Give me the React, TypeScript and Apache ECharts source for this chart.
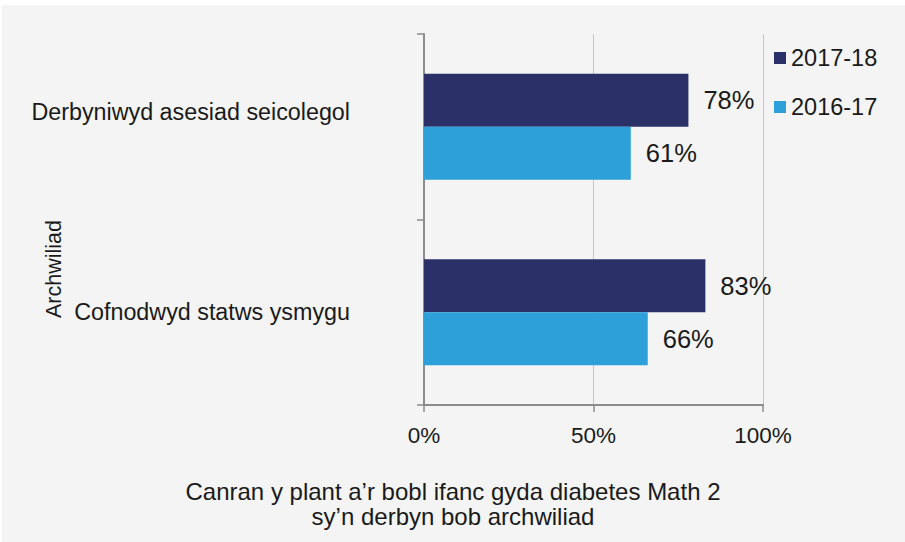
import React, { useEffect, useRef } from "react";
import * as echarts from "echarts";

const categories = ["Derbyniwyd asesiad seicolegol", "Cofnodwyd statws ysmygu"];
const seriesNames = ["2017-18", "2016-17"];
const values2017_18 = [78, 83];
const values2016_17 = [61, 66];
const xTicks = [0, 50, 100];
const xAxisTitle = "Canran y plant a\u2019r bobl ifanc gyda diabetes Math 2\nsy\u2019n derbyn bob archwiliad";
const yAxisTitle = "Archwiliad";

const FONT = "'Liberation Sans', Arial, Helvetica, sans-serif";
const TEXT = "#1a1a1a";

export default function App() {
  const ref = useRef<HTMLDivElement>(null);
  useEffect(() => {
    if (!ref.current) return;
    const chart = echarts.init(ref.current, undefined, { renderer: "svg" });
    const label = {
      show: true,
      position: "right",
      distance: 15,
      formatter: (p: any) => `${p.value}%`,
      fontSize: 25.5,
      fontFamily: FONT,
      color: TEXT,
    };
    chart.setOption({
      animation: false,
      backgroundColor: "#F3F4F3",
      textStyle: { fontFamily: FONT },
      grid: { left: 422, top: 29, right: 142, bottom: 137, containLabel: false },
      legend: {
        data: seriesNames,
        orient: "vertical",
        left: 767,
        top: 36,
        itemWidth: 12,
        itemHeight: 12,
        itemGap: 25,
        icon: "rect",
        textStyle: { fontSize: 23.5, fontFamily: FONT, color: TEXT, lineHeight: 21, padding: [0, 0, 0, 0] },
      },
      xAxis: {
        type: "value",
        min: xTicks[0],
        max: xTicks[xTicks.length - 1],
        interval: xTicks[1] - xTicks[0],
        axisLine: { show: true, lineStyle: { color: "#8C8C8C", width: 2 } },
        axisTick: { show: true, length: 7, lineStyle: { color: "#8C8C8C", width: 1.5 } },
        splitLine: { show: true, lineStyle: { color: "#C6C6C6", width: 1 } },
        axisLabel: { formatter: "{value}%", fontSize: 22.5, fontFamily: FONT, color: TEXT, margin: 19 },
      },
      yAxis: {
        type: "category",
        data: categories,
        inverse: true,
        axisLine: { show: true, lineStyle: { color: "#8C8C8C", width: 2 } },
        axisTick: { show: true, length: 7, lineStyle: { color: "#8C8C8C", width: 1.5 } },
        axisLabel: {
          margin: 74,
          fontSize: 23.3,
          fontFamily: FONT,
          color: TEXT,
          formatter: (v: string, i: number) => (i === 0 ? `{top|${v}}` : `{bot|${v}}`),
          rich: {
            top: { fontSize: 23.3, fontFamily: FONT, color: TEXT, padding: [0, 0, 30, 0] },
            bot: { fontSize: 23.3, fontFamily: FONT, color: TEXT },
          },
        },
      },
      series: [
        {
          name: seriesNames[0],
          type: "bar",
          data: values2017_18,
          barWidth: 53,
          barGap: "0%",
          itemStyle: { color: "#2B3068" },
          label,
        },
        {
          name: seriesNames[1],
          type: "bar",
          data: values2016_17,
          barWidth: 53,
          barGap: "0%",
          itemStyle: { color: "#2EA0D9" },
          label,
        },
      ],
      graphic: [
        {
          type: "text",
          x: 451,
          y: 474,
          style: {
            text: xAxisTitle,
            fontSize: 24,
            fontFamily: FONT,
            fill: TEXT,
            align: "center",
            lineHeight: 25,
          },
        },
        {
          type: "text",
          x: 52,
          y: 264,
          rotation: Math.PI / 2,
          style: {
            text: yAxisTitle,
            fontSize: 21.5,
            fontFamily: FONT,
            fill: TEXT,
            align: "center",
            verticalAlign: "middle",
          },
        },
      ],
    });
    return () => chart.dispose();
  }, []);
  return (
    <div style={{ position: "fixed", left: 0, top: 0, width: 905, height: 542, background: "#ffffff" }}>
      <div ref={ref} style={{ position: "absolute", left: 2, top: 5, width: 903, height: 537 }} />
    </div>
  );
}
